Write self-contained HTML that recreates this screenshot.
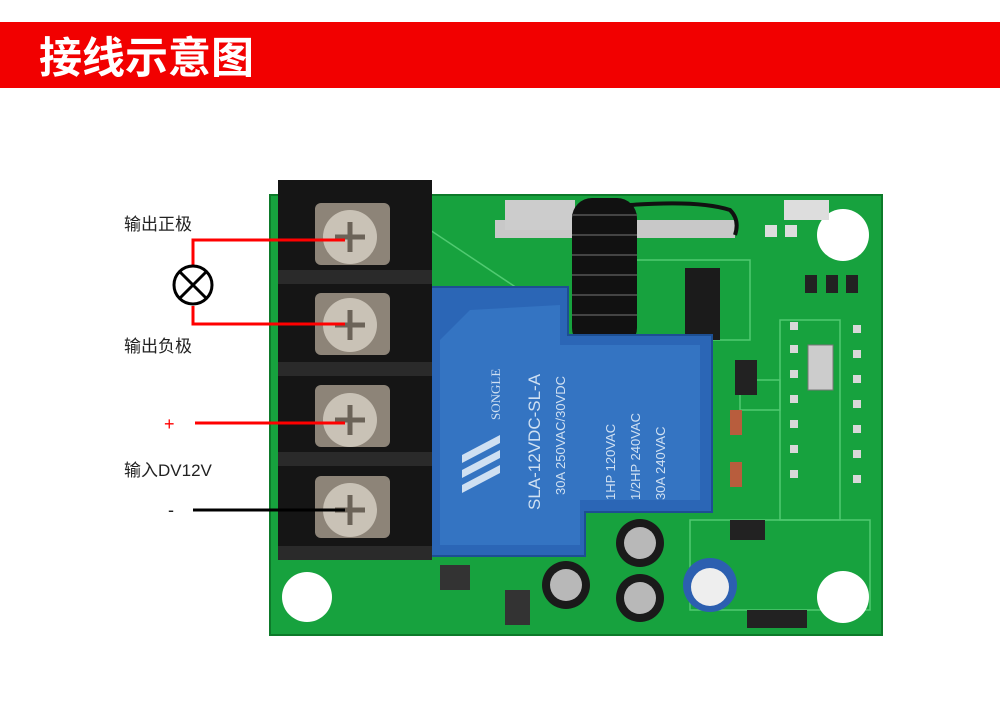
<!DOCTYPE html>
<html><head><meta charset="utf-8"><style>
body{margin:0;width:1000px;height:699px;background:#fff;overflow:hidden;font-family:"Liberation Sans","Noto Sans CJK SC",sans-serif}
</style></head><body>
<svg width="1000" height="699" viewBox="0 0 1000 699" xmlns="http://www.w3.org/2000/svg">
<rect x="0" y="22" width="1000" height="66" fill="#f20000"/>
<text x="39" y="73" fill="#fff" font-size="43" font-weight="bold" font-family="Noto Sans CJK SC,sans-serif">接线示意图</text>
<!-- board -->
<rect x="270" y="195" width="612" height="440" fill="#17a23e"/>
<rect x="270" y="195" width="612" height="440" fill="none" stroke="#0d7a2a" stroke-width="2"/>
<g stroke="#5fd47e" stroke-width="1.5" fill="none" opacity="0.8">
<line x1="430" y1="230" x2="520" y2="290"/>
<rect x="740" y="380" width="40" height="30"/><rect x="780" y="320" width="60" height="200"/>
<rect x="600" y="260" width="150" height="80"/><rect x="690" y="520" width="180" height="90"/>
</g>
<circle cx="843" cy="235" r="26" fill="#fff"/>
<circle cx="843" cy="597" r="26" fill="#fff"/>
<circle cx="307" cy="597" r="25" fill="#fff"/>
<g fill="#222"><rect x="805" y="275" width="12" height="18"/><rect x="826" y="275" width="12" height="18"/><rect x="846" y="275" width="12" height="18"/></g>
<g fill="#ddd"><rect x="784" y="200" width="45" height="20"/><rect x="765" y="225" width="12" height="12"/><rect x="785" y="225" width="12" height="12"/></g>
<g fill="#d8d8d8"><rect x="790" y="322" width="8" height="8"/><rect x="790" y="345" width="8" height="8"/><rect x="790" y="370" width="8" height="8"/><rect x="790" y="395" width="8" height="8"/><rect x="790" y="420" width="8" height="8"/><rect x="790" y="445" width="8" height="8"/><rect x="790" y="470" width="8" height="8"/><rect x="853" y="325" width="8" height="8"/><rect x="853" y="350" width="8" height="8"/><rect x="853" y="375" width="8" height="8"/><rect x="853" y="400" width="8" height="8"/><rect x="853" y="425" width="8" height="8"/><rect x="853" y="450" width="8" height="8"/><rect x="853" y="475" width="8" height="8"/></g>
<rect x="808" y="345" width="25" height="45" fill="#ccc" stroke="#777"/>
<rect x="685" y="268" width="35" height="72" fill="#1b1b1b"/>
<rect x="495" y="220" width="240" height="18" fill="#c8c8c8"/>
<rect x="505" y="200" width="70" height="30" fill="#ccc"/>
<rect x="735" y="360" width="22" height="35" fill="#222"/>
<rect x="730" y="410" width="12" height="25" fill="#b85d3d"/><rect x="730" y="462" width="12" height="25" fill="#b85d3d"/>
<rect x="730" y="520" width="35" height="20" fill="#222"/><rect x="747" y="610" width="60" height="18" fill="#222"/>
<rect x="440" y="565" width="30" height="25" fill="#333"/><rect x="505" y="590" width="25" height="35" fill="#333"/>
<g fill="#111"><rect x="572" y="198" width="65" height="150" rx="20"/></g>
<g stroke="#444" stroke-width="2"><line x1="572" y1="215" x2="637" y2="215"/><line x1="572" y1="235" x2="637" y2="235"/><line x1="572" y1="255" x2="637" y2="255"/><line x1="572" y1="275" x2="637" y2="275"/><line x1="572" y1="295" x2="637" y2="295"/><line x1="572" y1="315" x2="637" y2="315"/></g>
<path d="M630 205 Q700 200 730 210 Q740 220 735 235" stroke="#111" stroke-width="4" fill="none"/>
<!-- relay -->
<path d="M422 287 L568 287 L568 335 L712 335 L712 512 L585 512 L585 556 L422 556 Z" fill="#2b66b6" stroke="#1d4f93" stroke-width="2"/>
<path d="M470 310 L560 305 L560 345 L700 345 L700 500 L580 500 L580 545 L440 545 L440 340 Z" fill="#3474c2"/>
<g fill="#cfe0f2" font-size="13" font-family="Liberation Serif,serif">
<text transform="translate(500,420) rotate(-90)">SONGLE</text>
<text transform="translate(540,510) rotate(-90)" font-size="17" font-family="Liberation Sans,sans-serif">SLA-12VDC-SL-A</text>
<text transform="translate(565,495) rotate(-90)" font-family="Liberation Sans,sans-serif">30A  250VAC/30VDC</text>
<text transform="translate(615,500) rotate(-90)" font-family="Liberation Sans,sans-serif">1HP 120VAC</text>
<text transform="translate(640,500) rotate(-90)" font-family="Liberation Sans,sans-serif">1/2HP 240VAC</text>
<text transform="translate(665,500) rotate(-90)" font-family="Liberation Sans,sans-serif">30A  240VAC</text>
</g>
<g fill="#cfe0f2"><polygon points="462,455 500,435 500,443 462,463"/><polygon points="462,470 500,450 500,458 462,478"/><polygon points="462,485 500,465 500,473 462,493"/></g>
<circle cx="566" cy="585" r="24" fill="#1a1a1a"/><circle cx="566" cy="585" r="16" fill="#b8b8b8"/>
<circle cx="640" cy="543" r="24" fill="#1a1a1a"/><circle cx="640" cy="543" r="16" fill="#b8b8b8"/>
<circle cx="640" cy="598" r="24" fill="#1a1a1a"/><circle cx="640" cy="598" r="16" fill="#b8b8b8"/>
<circle cx="710" cy="585" r="27" fill="#2c5fb0"/><circle cx="710" cy="587" r="19" fill="#eee"/>
<!-- terminal block -->
<rect x="278" y="180" width="154" height="380" fill="#151515"/>
<g fill="#2a2a2a"><rect x="278" y="270" width="154" height="14"/><rect x="278" y="362" width="154" height="14"/><rect x="278" y="452" width="154" height="14"/><rect x="278" y="546" width="154" height="14"/></g>
<g>
<rect x="315" y="203" width="75" height="62" rx="6" fill="#8d8478"/><circle cx="350" cy="237" r="27" fill="#c9c2b6"/>
<rect x="315" y="293" width="75" height="62" rx="6" fill="#8d8478"/><circle cx="350" cy="325" r="27" fill="#c9c2b6"/>
<rect x="315" y="385" width="75" height="62" rx="6" fill="#8d8478"/><circle cx="350" cy="420" r="27" fill="#c9c2b6"/>
<rect x="315" y="476" width="75" height="62" rx="6" fill="#8d8478"/><circle cx="350" cy="510" r="27" fill="#c9c2b6"/>
</g>
<g stroke="#6b6358" stroke-width="5"><path d="M335 237h30M350 222v30M335 325h30M350 310v30M335 420h30M350 405v30M335 510h30M350 495v30"/></g>
<g stroke="#f00" stroke-width="3" fill="none">
<path d="M345 240 H193 V265"/><path d="M193 306 V324 H345"/><path d="M195 423 H345"/>
</g>
<path d="M193 510 H345" stroke="#000" stroke-width="3"/>
<circle cx="193" cy="285" r="19" fill="#fff" stroke="#000" stroke-width="3"/>
<path d="M180 272 L206 298 M206 272 L180 298" stroke="#000" stroke-width="3"/>
<g font-size="17" fill="#222" font-family="Liberation Sans,Noto Sans CJK SC,sans-serif">
<text x="124" y="230">输出正极</text>
<text x="124" y="352">输出负极</text>
<text x="124" y="476">输入DV12V</text>
<text x="164" y="430" fill="#f00" font-size="18">+</text>
<text x="168" y="516" font-size="18">-</text>
</g>
</svg>
</body></html>
